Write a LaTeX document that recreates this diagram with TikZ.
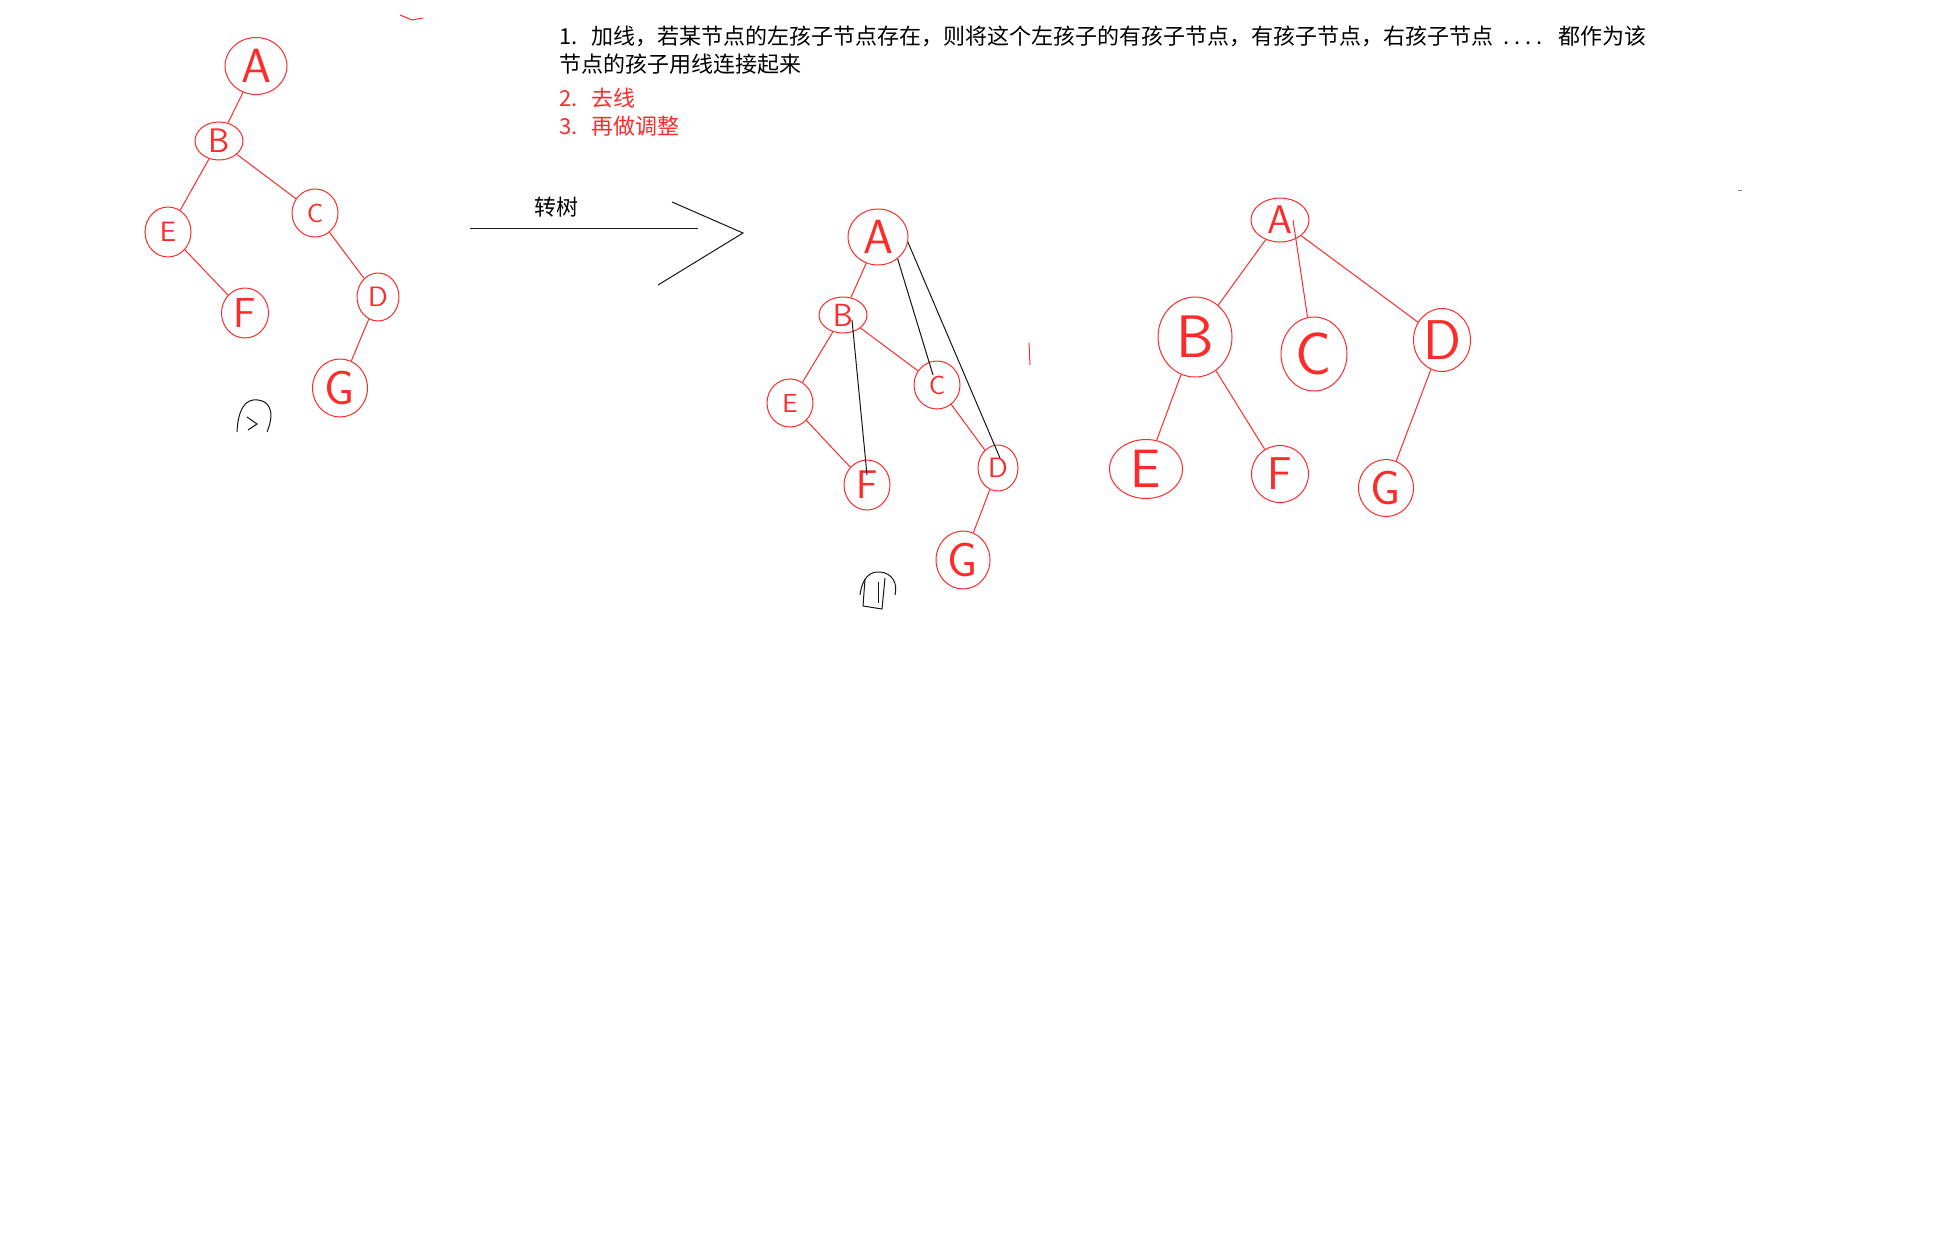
\documentclass[tikz,border=0pt]{standalone}
\usepackage{fontspec}
\newfontfamily\cjk{Noto Sans CJK SC}
\usetikzlibrary{shapes.geometric}
\definecolor{penred}{HTML}{FF2A2A}
\definecolor{inkblack}{HTML}{151515}
\tikzset{
  every picture/.style={line width=0.5pt},
  knot/.style n args={3}{ellipse, draw=penred, text=penred, inner sep=0pt,
    minimum width=#1*0.5pt, minimum height=#2*0.5pt, font=\sffamily\fontsize{#3}{#3}\selectfont},
  twig/.style={draw=penred},
  ink/.style={draw=inkblack},
  rule/.style={font=\cjk\fontsize{11}{14}\selectfont, inner sep=0pt, anchor=base west},
}

\begin{document}
\begin{tikzpicture}[x=0.5pt, y=-0.5pt]
  \useasboundingbox (0,0) rectangle (1954,1258);
  % steps
  \node[rule] (stepone) at (559,44) {1.\hspace{7pt}加线，若某节点的左孩子节点存在，则将这个左孩子的有孩子节点，有孩子节点，右孩子节点\hspace{5pt}.\hspace{2.4pt}.\hspace{2.4pt}.\hspace{2.4pt}.\hspace{8pt}都作为该};
  \node[rule] (steponeb) at (559,72) {节点的孩子用线连接起来};
  \node[rule, text=penred] (steptwo) at (559,106) {2.\hspace{7pt}去线};
  \node[rule, text=penred] (stepthree) at (559,134) {3.\hspace{7pt}再做调整};
  % binary tree
  \foreach \n/\x/\y/\w/\h/\s in {A/256/66/62/57/24, B/219/141/48/38/17, C/315/213/46/48/13,
                                 E/168/232/46/50/14, F/245/313/47/50/21, D/378/297/42/48/14, G/340/388/55/58/24}
    \node[knot={\w}{\h}{\s}] (l\n) at (\x,\y) {\n};
  \foreach \a/\b in {A/B, B/E, B/C, E/F, C/D, D/G} \draw[twig] (l\a) -- (l\b);
  \draw[ink] (237,432) .. controls (238,410) and (245,398) .. (258,400) .. controls (268,401) and (276,410) .. (267,432);
  \draw[ink] (247,417) -- (257,424) -- (248,430);
  \draw[twig] (400,15) -- (412,20) -- (423,18);
  % arrow
  \coordinate (shaftL) at (470,228); \coordinate (shaftR) at (698,228);
  \coordinate (barbA) at (672,202); \coordinate (barbTip) at (743,233); \coordinate (barbB) at (658,285);
  \draw[ink] (shaftL) -- (shaftR);
  \draw[ink] (barbA) -- (barbTip) -- (barbB);
  \node[font=\cjk\fontsize{11}{11}\selectfont, inner sep=0pt] (turn) at (556,207) {转树};
  % tree with added lines
  \foreach \n/\x/\y/\w/\h/\s in {A/878/237/60/56/24, B/843/315/48/36/16, C/937/385/46/48/13,
                                 E/790/403/46/48/13, F/867/485/46/50/20, D/998/468/40/46/14, G/963/560/54/58/24}
    \node[knot={\w}{\h}{\s}] (m\n) at (\x,\y) {\n};
  \foreach \a/\b in {A/B, B/E, B/C, E/F, C/D, D/G} \draw[twig] (m\a) -- (m\b);
  \draw[ink] ([shift={(4.5pt,-2.5pt)}]mB.center) -- ([shift={(0pt,5pt)}]mF.center);
  \draw[ink] (mA.-48) -- ([shift={(-2pt,5pt)}]mC.center);
  \draw[ink] (mA.-10) -- ([shift={(1pt,5pt)}]mD.center);
  \draw[ink] (860,595) .. controls (862,578) and (870,571) .. (880,572) .. controls (892,573) and (898,583) .. (895,595);
  \draw[ink] (865,579) -- (863,606) -- (882,609) -- (885,578);
  \draw[ink] (878,582) -- (878,603);
  \draw[twig] (1029,343) -- (1030,365);
  % adjusted tree
  \foreach \n/\x/\y/\w/\h/\s in {A/1280/220/58/44/20, B/1195/337/74/80/30, C/1314/354/66/74/30,
                                 D/1442/340/57/63/28, E/1146/469/73/59/27, F/1280/474/57/57/23, G/1386/488/55/57/24}
    \node[knot={\w}{\h}{\s}] (r\n) at (\x,\y) {\n};
  \foreach \a/\b in {A/B, A/D, B/E, B/F, D/G} \draw[twig] (r\a) -- (r\b);
  \draw[twig] ([xshift=6.5pt]rA.center) -- (rC.100);
  \draw[gray] (1738,190) -- (1742,190);
\end{tikzpicture}
\end{document}
